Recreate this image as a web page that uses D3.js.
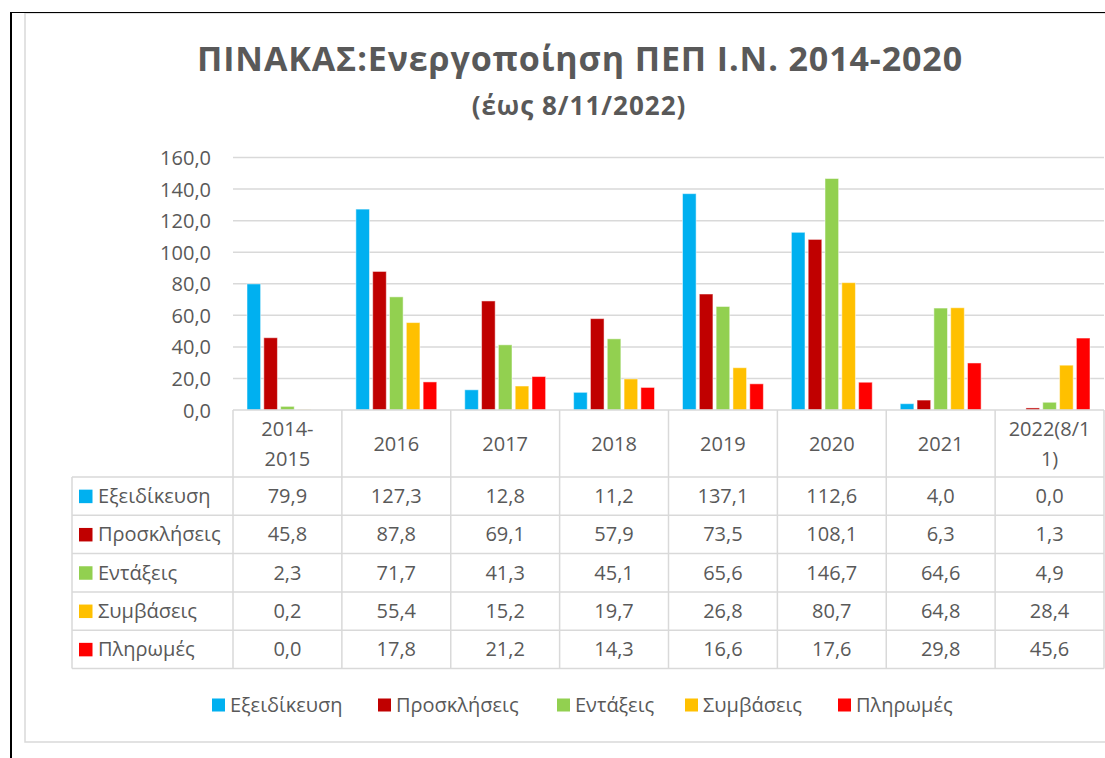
<!DOCTYPE html>
<html><head><meta charset="utf-8">
<script src="https://cdn.jsdelivr.net/npm/d3@7"></script>
<style>
html,body{margin:0;padding:0;background:#fff;}
svg{display:block;}
text{font-family:"Open Sans","Noto Sans",sans-serif;fill:#595959;}
</style></head>
<body>
<svg id="chart" width="1105" height="758"></svg>
<script>
const categories = ["2014-2015","2016","2017","2018","2019","2020","2021","2022(8/11)"];
const categoryLines = [["2014-","2015"],["2016"],["2017"],["2018"],["2019"],["2020"],["2021"],["2022(8/1","1)"]];
const seriesNames = ["Εξειδίκευση","Προσκλήσεις","Εντάξεις","Συμβάσεις","Πληρωμές"];
const seriesColors = ["#00B0F0","#C00000","#92D050","#FFC000","#FF0000"];
const exeidikeusi = [79.9,127.3,12.8,11.2,137.1,112.6,4.0,0.0];
const proskliseis = [45.8,87.8,69.1,57.9,73.5,108.1,6.3,1.3];
const entaxeis = [2.3,71.7,41.3,45.1,65.6,146.7,64.6,4.9];
const symvaseis = [0.2,55.4,15.2,19.7,26.8,80.7,64.8,28.4];
const pliromes = [0.0,17.8,21.2,14.3,16.6,17.6,29.8,45.6];
const seriesValues = [exeidikeusi,proskliseis,entaxeis,symvaseis,pliromes];
const yTicks = [0,20,40,60,80,100,120,140,160];
const titleText = "ΠΙΝΑΚΑΣ:Ενεργοποίηση ΠΕΠ Ι.Ν. 2014-2020";
const subtitleText = "(έως 8/11/2022)";

(function(){
const svg = d3.select("#chart");
const fmt = v => d3.format(".1f")(v).replace(".", ",");
const FS = "20px";

// frames
svg.append("rect").attr("x",25).attr("y",13).attr("width",1100).attr("height",729)
  .attr("fill","#fff").attr("stroke","#d9d9d9").attr("stroke-width",1.5);
svg.append("line").attr("x1",10).attr("x2",1105).attr("y1",12.5).attr("y2",12.5).attr("stroke","#000").attr("stroke-width",1);
svg.append("line").attr("x1",11).attr("x2",11).attr("y1",12).attr("y2",758).attr("stroke","#000").attr("stroke-width",2);

// title
svg.append("text").attr("x",580).attr("y",71).attr("text-anchor","middle")
  .style("font-size","34px").style("font-weight","bold").style("letter-spacing","0.9px").text(titleText);
svg.append("text").attr("x",579).attr("y",115).attr("text-anchor","middle")
  .style("font-size","26px").style("font-weight","bold").style("letter-spacing","1px").text(subtitleText);

const pLeft = 233, pRight = 1104, pTop = 157.5, pBottom = 410;
const x = d3.scaleBand().domain(categories).range([pLeft,pRight]).padding(0);
const xs = d3.scaleBand().domain(seriesNames).range([14, x.bandwidth()-14]).paddingInner(0.19).paddingOuter(0);
const y = d3.scaleLinear().domain([0,160]).range([pBottom,pTop]);

// gridlines
svg.append("g").selectAll("line").data(yTicks.filter(t=>t>0)).join("line")
  .attr("x1",pLeft).attr("x2",pRight).attr("y1",d=>y(d)).attr("y2",d=>y(d))
  .attr("stroke","#d9d9d9").attr("stroke-width",1.5);

// y axis labels
const yAxis = d3.axisLeft(y).tickValues(yTicks).tickFormat(fmt).tickSize(0).tickPadding(0);
const ya = svg.append("g").attr("transform",`translate(211,0)`).call(yAxis);
ya.select(".domain").remove();
ya.selectAll("text").style("font-size",FS).style("fill","#595959").style("font-family",'"Open Sans","Noto Sans",sans-serif').attr("dy","0.35em");

// bars
const g = svg.append("g");
seriesNames.forEach((s,si)=>{
  g.append("g").selectAll("rect").data(seriesValues[si]).join("rect")
    .attr("x",(d,i)=>x(categories[i])+xs(s))
    .attr("y",d=>y(d))
    .attr("width",xs.bandwidth())
    .attr("height",d=>pBottom-y(d))
    .attr("fill",seriesColors[si])
    .attr("stroke","#fff").attr("stroke-opacity",0.5).attr("stroke-width",d=>d>0?1:0);
});

// table
const headerBottom = 477, rowH = 38.3, tableLeft = 72;
const tableBottom = headerBottom + rowH*seriesNames.length;
const tg = svg.append("g");
const lineC = "#d9d9d9";
tg.append("line").attr("x1",pLeft).attr("x2",pRight).attr("y1",pBottom).attr("y2",pBottom).attr("stroke",lineC).attr("stroke-width",1.5);
const vx = categories.map(c=>x(c)).concat([pRight]);
tg.selectAll("line.v").data(vx).join("line").attr("class","v")
  .attr("x1",d=>d).attr("x2",d=>d).attr("y1",pBottom).attr("y2",tableBottom).attr("stroke",lineC).attr("stroke-width",1.5);
tg.append("line").attr("x1",tableLeft).attr("x2",tableLeft).attr("y1",headerBottom).attr("y2",tableBottom).attr("stroke",lineC).attr("stroke-width",1.5);
const hy = d3.range(seriesNames.length+1).map(i=>headerBottom+i*rowH);
tg.selectAll("line.h").data(hy).join("line").attr("class","h")
  .attr("x1",tableLeft).attr("x2",pRight).attr("y1",d=>d).attr("y2",d=>d).attr("stroke",lineC).attr("stroke-width",1.5);

categories.forEach((c,i)=>{
  const lines = categoryLines[i];
  const cx = x(c)+x.bandwidth()/2;
  const cy = (pBottom+headerBottom)/2;
  const lh = 30;
  lines.forEach((ln,j)=>{
    tg.append("text").attr("x",cx).attr("y",cy + (j-(lines.length-1)/2)*lh).attr("dy","0.35em")
      .attr("text-anchor","middle").style("font-size",FS).text(ln);
  });
});
seriesNames.forEach((s,si)=>{
  const cy = headerBottom + si*rowH + rowH/2;
  tg.append("rect").attr("x",79).attr("y",cy-6.5).attr("width",13.5).attr("height",13.5).attr("fill",seriesColors[si]);
  tg.append("text").attr("x",98).attr("y",cy).attr("dy","0.35em").style("font-size",FS).text(s);
  seriesValues[si].forEach((v,i)=>{
    tg.append("text").attr("x",x(categories[i])+x.bandwidth()/2).attr("y",cy).attr("dy","0.35em")
      .attr("text-anchor","middle").style("font-size",FS).text(fmt(v));
  });
});

// legend
const legendX = [212,378,557,685,838];
const lg = svg.append("g");
seriesNames.forEach((s,si)=>{
  lg.append("rect").attr("x",legendX[si]).attr("y",698.5).attr("width",13).attr("height",13).attr("fill",seriesColors[si]);
  lg.append("text").attr("x",legendX[si]+18).attr("y",705).attr("dy","0.35em").style("font-size",FS).text(s);
});
})();
</script>
</body></html>
